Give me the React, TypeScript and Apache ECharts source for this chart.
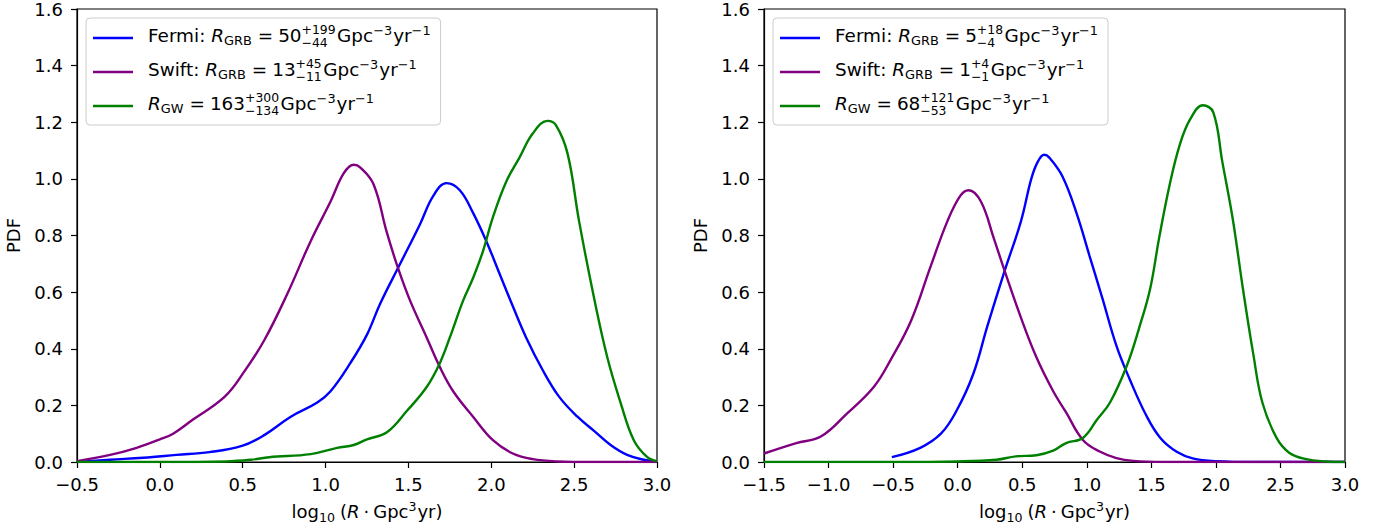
import React, { useEffect, useRef } from 'react';
import * as echarts from 'echarts';

const FONT = 'DejaVu Sans';
const FS = 18;
const LFS = 18.4;
const SS = 12.9;
const STACK = 12.4;

// x-axis settings
const leftXRange = [-0.5, 3.0];
const rightXRange = [-1.5, 3.0];
const xInterval = 0.5;
const yRange = [0, 1.6];
const yInterval = 0.2;

// Left panel: log10 rate vs PDF
const leftFermi = [
  [-0.5, 0.0], [-0.3, 0.008], [-0.1, 0.015], [0.1, 0.025], [0.3, 0.035], [0.5, 0.058], [0.63, 0.095],
  [0.79, 0.16], [0.95, 0.21], [1.03, 0.25], [1.15, 0.35], [1.25, 0.45], [1.33, 0.56], [1.45, 0.70],
  [1.57, 0.84], [1.65, 0.94], [1.73, 0.985], [1.81, 0.96], [1.89, 0.88], [1.97, 0.78], [2.05, 0.665],
  [2.13, 0.55], [2.21, 0.44], [2.31, 0.325], [2.41, 0.23], [2.52, 0.16], [2.62, 0.11], [2.72, 0.06],
  [2.82, 0.025], [2.92, 0.008], [3.0, 0.002],
];
const leftSwift = [
  [-0.5, 0.003], [-0.3, 0.025], [-0.14, 0.05], [0.0, 0.08], [0.08, 0.1], [0.2, 0.15], [0.39, 0.23],
  [0.51, 0.32], [0.63, 0.43], [0.77, 0.595], [0.91, 0.78], [1.03, 0.92], [1.11, 1.02], [1.17, 1.05],
  [1.21, 1.04], [1.29, 0.98], [1.37, 0.81], [1.44, 0.68], [1.51, 0.57], [1.61, 0.44], [1.69, 0.335],
  [1.77, 0.25], [1.89, 0.16], [2.01, 0.077], [2.13, 0.03], [2.25, 0.01], [2.4, 0.002], [2.6, 0.0], [3.0, 0.0],
];
const leftGW = [
  [-0.5, 0.0], [0.0, 0.0], [0.4, 0.002], [0.55, 0.008], [0.66, 0.017], [0.91, 0.028], [1.07, 0.05],
  [1.17, 0.06], [1.25, 0.08], [1.37, 0.105], [1.49, 0.18], [1.61, 0.265], [1.69, 0.35], [1.75, 0.44],
  [1.83, 0.57], [1.89, 0.65], [1.95, 0.745], [2.01, 0.865], [2.09, 0.99], [2.17, 1.075], [2.25, 1.16],
  [2.34, 1.205], [2.39, 1.19], [2.46, 1.09], [2.53, 0.85], [2.62, 0.58], [2.70, 0.37], [2.78, 0.21],
  [2.86, 0.077], [2.94, 0.018], [3.0, 0.003],
];

// Right panel
const rightFermi = [
  [-0.51, 0.017], [-0.29, 0.05], [-0.13, 0.1], [-0.01, 0.18], [0.12, 0.31], [0.23, 0.48], [0.36, 0.67],
  [0.49, 0.85], [0.57, 1.0], [0.62, 1.06], [0.67, 1.085], [0.71, 1.075], [0.81, 1.01], [0.92, 0.88],
  [1.02, 0.73], [1.12, 0.58], [1.23, 0.41], [1.33, 0.295], [1.46, 0.165], [1.57, 0.085], [1.7, 0.035],
  [1.82, 0.013], [2.0, 0.003], [2.3, 0.0], [3.0, 0.0],
];
const rightSwift = [
  [-1.5, 0.03], [-1.25, 0.067], [-1.06, 0.09], [-0.86, 0.17], [-0.65, 0.265], [-0.52, 0.36], [-0.36, 0.5],
  [-0.21, 0.69], [-0.08, 0.85], [0.02, 0.94], [0.085, 0.96], [0.18, 0.92], [0.28, 0.79], [0.36, 0.68],
  [0.49, 0.51], [0.61, 0.37], [0.74, 0.25], [0.84, 0.175], [0.97, 0.078], [1.1, 0.037], [1.23, 0.014],
  [1.36, 0.004], [1.6, 0.0], [3.0, 0.0],
];
const rightGW = [
  [-1.5, 0.0], [-0.5, 0.0], [0.0, 0.002], [0.3, 0.008], [0.45, 0.02], [0.61, 0.024], [0.74, 0.04],
  [0.84, 0.067], [0.97, 0.085], [1.08, 0.15], [1.18, 0.21], [1.31, 0.34], [1.41, 0.48], [1.49, 0.61],
  [1.56, 0.79], [1.64, 0.975], [1.72, 1.12], [1.8, 1.21], [1.9, 1.26], [1.98, 1.235], [2.05, 1.06],
  [2.13, 0.86], [2.21, 0.61], [2.29, 0.38], [2.36, 0.21], [2.47, 0.085], [2.57, 0.032], [2.7, 0.01],
  [2.85, 0.002], [3.0, 0.0],
];

const colors = { fermi: '#0000ff', swift: '#800080', gw: '#008000' };

// Legend labels
const leftLabels = [
  { prefix: 'Fermi: ', sub: 'GRB', value: '50', plus: '+199', minus: '\u221244' },
  { prefix: 'Swift: ', sub: 'GRB', value: '13', plus: '+45', minus: '\u221211' },
  { prefix: '', sub: 'GW', value: '163', plus: '+300', minus: '\u2212134' },
];
const rightLabels = [
  { prefix: 'Fermi: ', sub: 'GRB', value: '5', plus: '+18', minus: '\u22124' },
  { prefix: 'Swift: ', sub: 'GRB', value: '1', plus: '+4', minus: '\u22121' },
  { prefix: '', sub: 'GW', value: '68', plus: '+121', minus: '\u221253' },
];
const yAxisTitle = 'PDF';

type Seg =
  | { k: 't'; text: string; size?: number; italic?: boolean; shift?: number }
  | { k: 'g'; w: number }
  | { k: 's'; sup: string; sub: string };

let ctx: CanvasRenderingContext2D | null = null;
function measure(text: string, size: number, italic?: boolean) {
  if (!ctx) ctx = document.createElement('canvas').getContext('2d');
  ctx!.font = `${italic ? 'italic ' : ''}${size}px "${FONT}"`;
  return ctx!.measureText(text).width;
}

function textEl(text: string, x: number, centerY: number, size: number, italic: boolean | undefined, lineHeight: number) {
  return {
    type: 'text',
    x,
    y: centerY,
    z: 101,
    silent: true,
    style: {
      text,
      fontSize: size,
      fontFamily: FONT,
      fontStyle: italic ? 'italic' : 'normal',
      fill: '#000',
      align: 'left',
      verticalAlign: 'middle',
      lineHeight,
    },
  };
}

function layoutRun(segs: Seg[], x0: number, baseline: number, base: number) {
  const els: any[] = [];
  let x = x0;
  for (const s of segs) {
    if (s.k === 'g') {
      x += s.w;
    } else if (s.k === 't') {
      const size = s.size ?? base;
      const b = baseline - (s.shift ?? 0);
      els.push(textEl(s.text, x, b - 0.346 * size, size, s.italic, size < base ? 9 : size));
      x += measure(s.text, size, s.italic);
      if (size < base) x += 1;
    } else {
      // stacked superscript / subscript as one two-line text
      const supC = baseline - 7.8 - 0.346 * STACK;
      const subC = baseline + 4.8 - 0.346 * STACK;
      els.push(textEl(s.sup + '\n' + s.sub, x, (supC + subC) / 2, STACK, false, subC - supC));
      x += Math.max(measure(s.sup, STACK), measure(s.sub, STACK)) + 1.5;
    }
  }
  return { els, width: x - x0 };
}

function legendSegs(l: { prefix: string; sub: string; value: string; plus: string; minus: string }): Seg[] {
  const segs: Seg[] = [];
  if (l.prefix) segs.push({ k: 't', text: l.prefix });
  segs.push({ k: 't', text: 'R', italic: true });
  segs.push({ k: 't', text: l.sub, size: SS, shift: -3 });
  segs.push({ k: 'g', w: 5 });
  segs.push({ k: 't', text: '=' });
  segs.push({ k: 'g', w: 5 });
  segs.push({ k: 't', text: l.value });
  segs.push({ k: 's', sup: l.plus, sub: l.minus });
  segs.push({ k: 't', text: 'Gpc' });
  segs.push({ k: 't', text: '\u22123', size: SS, shift: 7 });
  segs.push({ k: 't', text: 'yr' });
  segs.push({ k: 't', text: '\u22121', size: SS, shift: 7 });
  return segs;
}

const xTitleSegs: Seg[] = [
  { k: 't', text: 'log' },
  { k: 't', text: '10', size: 12.6, shift: -3.5 },
  { k: 'g', w: 4 },
  { k: 't', text: '(' },
  { k: 't', text: 'R', italic: true },
  { k: 'g', w: 4 },
  { k: 't', text: '\u00b7' },
  { k: 'g', w: 4 },
  { k: 't', text: 'Gpc' },
  { k: 't', text: '3', size: 12.6, shift: 7 },
  { k: 't', text: 'yr)' },
];

function buildLegend(boxX: number, labels: typeof leftLabels, lineColors: string[]) {
  const rowY = [38, 72, 106];
  const lineX1 = boxX + 7;
  const lineX2 = boxX + 47;
  const textX = boxX + 62;
  const els: any[] = [];
  let maxW = 0;
  labels.forEach((l, i) => {
    const run = layoutRun(legendSegs(l), textX, rowY[i] + 4, LFS);
    maxW = Math.max(maxW, run.width);
    els.push({
      type: 'line',
      z: 101,
      silent: true,
      shape: { x1: lineX1, y1: rowY[i], x2: lineX2, y2: rowY[i] },
      style: { stroke: lineColors[i], lineWidth: 2.4 },
    });
    els.push(...run.els);
  });
  const box = {
    type: 'rect',
    z: 100,
    silent: true,
    shape: { x: boxX, y: 18, width: textX + maxW + 9 - boxX, height: 107, r: 4 },
    style: { fill: 'rgba(255,255,255,0.8)', stroke: '#cccccc', lineWidth: 1 },
  };
  return [box, ...els];
}

function buildXTitle(centerX: number) {
  const w = layoutRun(xTitleSegs, 0, 0, FS).width;
  return layoutRun(xTitleSegs, centerX - w / 2, 518, FS).els;
}

const fmt = (v: number) => (v < 0 ? '\u2212' + Math.abs(v).toFixed(1) : v.toFixed(1));

export default function App() {
  const ref = useRef<HTMLDivElement>(null);
  useEffect(() => {
    if (!ref.current) return;
    const chart = echarts.init(ref.current, undefined, { renderer: 'svg' });
    const grids = [
      { left: 77, top: 8, width: 580, height: 454 },
      { left: 764, top: 8, width: 581, height: 454 },
    ];
    const axisCommon = {
      axisLine: { show: true, onZero: false, lineStyle: { color: '#000', width: 1.2 } },
      axisTick: { show: true, inside: false, length: 6, lineStyle: { color: '#000', width: 1.2 } },
      splitLine: { show: false },
    };
    const labelStyle = { color: '#000', fontSize: FS, fontFamily: FONT };
    const xAxes = [leftXRange, rightXRange].map((r, i) => ({
      type: 'value',
      gridIndex: i,
      min: r[0],
      max: r[1],
      interval: xInterval,
      ...axisCommon,
      axisLabel: { ...labelStyle, margin: 13, formatter: fmt },
    }));
    const yAxes = [0, 1].map((i) => ({
      type: 'value',
      gridIndex: i,
      min: yRange[0],
      max: yRange[1],
      interval: yInterval,
      ...axisCommon,
      name: yAxisTitle,
      nameLocation: 'middle',
      nameGap: 55,
      nameTextStyle: { color: '#000', fontSize: FS, fontFamily: FONT },
      axisLabel: { ...labelStyle, margin: 14, formatter: (v: number) => v.toFixed(1) },
    }));
    const mk = (name: string, data: number[][], color: string, idx: number) => ({
      type: 'line',
      name,
      data,
      xAxisIndex: idx,
      yAxisIndex: idx,
      showSymbol: false,
      symbol: 'none',
      smooth: 0.4,
      lineStyle: { color, width: 2.4 },
      itemStyle: { color },
      z: 3,
    });
    chart.setOption({
      animation: false,
      backgroundColor: '#fff',
      grid: grids.map((g) => ({ ...g, show: true, borderColor: '#000', borderWidth: 1.2, backgroundColor: 'transparent' })),
      xAxis: xAxes,
      yAxis: yAxes,
      series: [
        mk('Fermi (left)', leftFermi, colors.fermi, 0),
        mk('Swift (left)', leftSwift, colors.swift, 0),
        mk('GW (left)', leftGW, colors.gw, 0),
        mk('Fermi (right)', rightFermi, colors.fermi, 1),
        mk('Swift (right)', rightSwift, colors.swift, 1),
        mk('GW (right)', rightGW, colors.gw, 1),
      ],
      graphic: [
        ...buildLegend(86, leftLabels, [colors.fermi, colors.swift, colors.gw]),
        ...buildLegend(773, rightLabels, [colors.fermi, colors.swift, colors.gw]),
        ...buildXTitle(367),
        ...buildXTitle(1054.5),
      ],
    });
    return () => chart.dispose();
  }, []);
  return (
    <div
      ref={ref}
      style={{ position: 'absolute', left: 0, top: 0, width: 1385, height: 527, background: '#fff' }}
    />
  );
}
